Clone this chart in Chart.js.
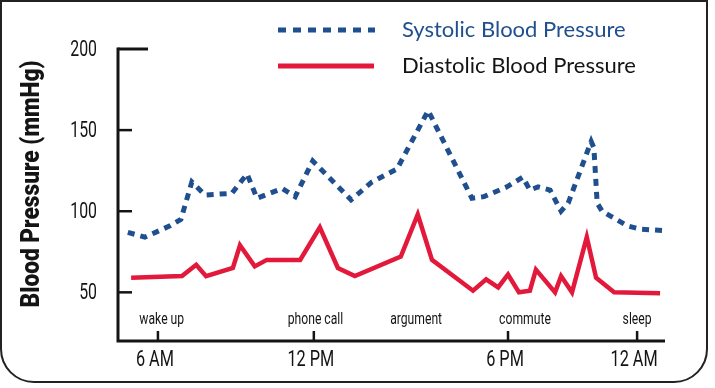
<!DOCTYPE html>
<html>
<head>
<meta charset="utf-8">
<script src="https://cdn.jsdelivr.net/npm/chart.js@4.4.1/dist/chart.umd.min.js"></script>
<style>
  html, body { margin: 0; padding: 0; background: #fff; }
  #bpChart { display: block; }
</style>
</head>
<body>
<canvas id="bpChart" width="715" height="388"></canvas>
<script>
// x positions are read along the drawn time axis (0 = left end, 100 = right end)
const systolicPos  = [1.8, 4.9, 9.5, 11.5, 13.5, 15.9, 20.8, 23.6, 25.4, 30.0, 32.4, 35.6, 42.6, 46.4, 51.0, 56.7,
                      64.7, 66.9, 71.1, 74.0, 75.3, 76.8, 79.0, 81.0, 82.3, 86.5, 87.0, 87.6, 88.5, 93.1, 95.4, 100];
const systolicVals = [87, 84, 91, 95, 118, 110, 111, 123, 108, 114, 109, 131, 107, 118, 126, 162,
                      108, 109, 115, 121, 113, 115, 113, 100, 105, 143, 139, 105, 100, 91, 89, 88];

const diastolicPos  = [2.4, 11.7, 14.3, 16.1, 21.0, 22.3, 25.0, 27.2, 33.3, 36.9, 40.2, 43.3, 51.7, 54.8, 57.4,
                       64.9, 67.3, 69.5, 71.3, 73.3, 75.3, 76.4, 79.9, 81.0, 83.0, 85.7, 87.4, 90.7, 99.1];
const diastolicVals = [59, 60, 67, 60, 65, 79, 66, 70, 70, 90, 65, 60, 72, 98, 70,
                       51, 58, 53, 61, 50, 51, 64, 50, 60, 50, 84, 59, 50, 49.5];

const timeTickPos    = [7.3, 35.8, 71.3, 94.9];
const timeTickLabels = ["6 AM", "12 PM", "6 PM", "12 AM"];

const eventPos    = [8.0, 36.1, 54.5, 74.4, 94.9];
const eventLabels = ["wake up", "phone call", "argument", "commute", "sleep"];

const yTicks = [50, 100, 150, 200];

const BLUE = "#1f4f8f";
const RED = "#e3193c";
const INK = "#141414";
const COND = "Roboto, 'Noto Sans', sans-serif";
const LEGEND_FONT = "Lato, 'Open Sans', sans-serif";

const toPoints = (xs, ys) => xs.map((x, i) => ({ x, y: ys[i] }));

// no condensed face is installed, so squeeze a normal one horizontally
function narrowText(ctx, text, x, y, font, squeeze, align) {
  ctx.save();
  ctx.font = font;
  ctx.textAlign = align || "center";
  ctx.textBaseline = "middle";
  ctx.translate(x, y);
  ctx.scale(squeeze, 1);
  ctx.fillText(text, 0, 0);
  ctx.restore();
}

const decorations = {
  id: "decorations",
  beforeDraw(chart) {
    const ctx = chart.ctx;
    ctx.save();
    ctx.fillStyle = "#fff";
    ctx.fillRect(0, 0, chart.width, chart.height);
    ctx.restore();
  },
  afterDraw(chart) {
    const ctx = chart.ctx;
    const { left, right, top, bottom } = chart.chartArea;
    const xs = chart.scales.x;
    const ys = chart.scales.y;

    ctx.save();
    ctx.strokeStyle = INK;
    ctx.fillStyle = INK;
    ctx.lineCap = "butt";

    // axes
    ctx.lineWidth = 3;
    ctx.beginPath();
    ctx.moveTo(left, top - 1.5);
    ctx.lineTo(left, bottom + 1.5);
    ctx.moveTo(left - 1.5, bottom);
    ctx.lineTo(right, bottom);
    ctx.stroke();

    // y ticks pointing into the plot, top one longer
    yTicks.forEach(v => {
      const py = ys.getPixelForValue(v);
      const len = v === ys.max ? 30 : 14;
      ctx.lineWidth = v === ys.max ? 3 : 2.5;
      ctx.beginPath();
      ctx.moveTo(left, py);
      ctx.lineTo(left + len, py);
      ctx.stroke();
      narrowText(ctx, String(v), left - 21, py + 1, "22px " + COND, 0.72, "right");
    });

    // x ticks pointing up
    ctx.lineWidth = 2.5;
    timeTickPos.forEach((v, i) => {
      const px = xs.getPixelForValue(v);
      ctx.beginPath();
      ctx.moveTo(px, bottom);
      ctx.lineTo(px, bottom - 10);
      ctx.stroke();
      narrowText(ctx, timeTickLabels[i], px - 3, bottom + 19, "22px " + COND, 0.74);
    });

    // event labels
    eventPos.forEach((v, i) => {
      narrowText(ctx, eventLabels[i], xs.getPixelForValue(v), bottom - 21, "16px " + COND, 0.76);
    });

    // y axis title, fitted to its length in the reference
    ctx.save();
    ctx.font = "900 26px " + COND;
    const titleText = chart.options.scales.y.title.text;
    const tw = ctx.measureText(titleText).width;
    ctx.translate(32, 184);
    ctx.rotate(-Math.PI / 2);
    ctx.scale(247 / tw, 1);
    ctx.textAlign = "center";
    ctx.textBaseline = "middle";
    ctx.fillText(titleText, 0, 0);
    ctx.restore();

    // legend
    const ds = chart.data.datasets;
    ctx.lineWidth = 5;
    ctx.strokeStyle = BLUE;
    ctx.setLineDash([8, 7]);
    ctx.beginPath();
    ctx.moveTo(278, 30);
    ctx.lineTo(375, 30);
    ctx.stroke();
    ctx.setLineDash([]);
    ctx.strokeStyle = RED;
    ctx.beginPath();
    ctx.moveTo(278, 66);
    ctx.lineTo(374, 66);
    ctx.stroke();

    ctx.font = "22px " + LEGEND_FONT;
    ctx.textAlign = "left";
    ctx.textBaseline = "middle";
    ctx.fillStyle = BLUE;
    ctx.fillText(ds[0].label, 402, 30);
    ctx.fillStyle = INK;
    ctx.fillText(ds[1].label, 402, 66);

    // frame with rounded bottom corners
    const r = 33, x0 = 1, y0 = 1, x1 = 707, y1 = 382;
    ctx.lineWidth = 2;
    ctx.strokeStyle = "#222";
    ctx.beginPath();
    ctx.moveTo(x0, y0);
    ctx.lineTo(x1, y0);
    ctx.lineTo(x1, y1 - r);
    ctx.arcTo(x1, y1, x1 - r, y1, r);
    ctx.lineTo(x0 + r, y1);
    ctx.arcTo(x0, y1, x0, y1 - r, r);
    ctx.closePath();
    ctx.stroke();
    ctx.restore();
  }
};

chart = new Chart(document.getElementById("bpChart"), {
  type: "line",
  data: {
    datasets: [{
      label: "Systolic Blood Pressure",
      data: toPoints(systolicPos, systolicVals),
      borderColor: BLUE,
      borderWidth: 5,
      borderDash: [7, 6],
      pointRadius: 0,
      tension: 0
    }, {
      label: "Diastolic Blood Pressure",
      data: toPoints(diastolicPos, diastolicVals),
      borderColor: RED,
      borderWidth: 4.5,
      pointRadius: 0,
      tension: 0
    }]
  },
  options: {
    responsive: false,
    animation: false,
    devicePixelRatio: 1,
    layout: { padding: { top: 49, right: 50, left: 0, bottom: 0 } },
    plugins: {
      legend: { display: false },
      tooltip: { enabled: false }
    },
    scales: {
      x: {
        type: "linear",
        min: 0,
        max: 100,
        grid: { display: false, drawTicks: false },
        border: { display: false },
        afterBuildTicks: s => { s.ticks = timeTickPos.map(v => ({ value: v })); },
        afterFit: s => { s.height = 47; },
        ticks: { display: false }
      },
      y: {
        min: 20,
        max: 200,
        title: { display: false, text: "Blood Pressure (mmHg)" },
        grid: { display: false, drawTicks: false },
        border: { display: false },
        afterBuildTicks: s => { s.ticks = yTicks.map(v => ({ value: v })); },
        afterFit: s => { s.width = 118; },
        ticks: { display: false }
      }
    }
  },
  plugins: [decorations]
});
</script>
</body>
</html>
